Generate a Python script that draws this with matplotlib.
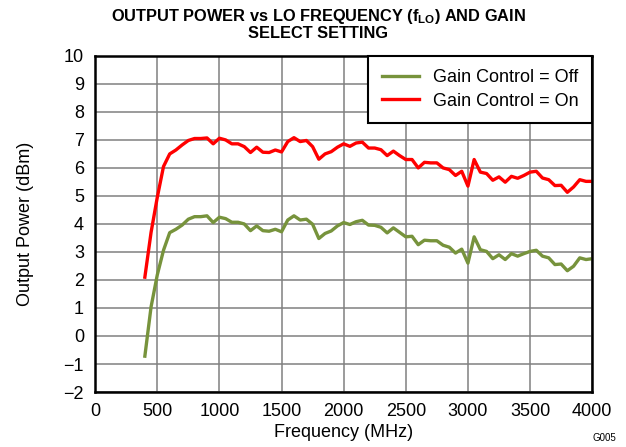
import matplotlib
matplotlib.use('Agg')
import matplotlib.pyplot as plt

plt.rcParams['font.family'] = ['Liberation Sans', 'DejaVu Sans']

FREQ_MHZ = list(range(400, 4001, 50))

GAIN_OFF = [
    -0.72, 1.04, 2.18, 3.06, 3.69, 3.81, 3.96, 4.17, 4.26, 4.26,
    4.29, 4.05, 4.24, 4.19, 4.06, 4.06, 4.00, 3.76, 3.93, 3.76,
    3.74, 3.81, 3.72, 4.14, 4.29, 4.14, 4.17, 3.99, 3.48, 3.66,
    3.75, 3.93, 4.05, 3.98, 4.08, 4.13, 3.96, 3.95, 3.88, 3.68,
    3.86, 3.70, 3.54, 3.56, 3.26, 3.42, 3.40, 3.40, 3.24, 3.17,
    2.96, 3.10, 2.60, 3.54, 3.08, 3.02, 2.76, 2.90, 2.73, 2.94,
    2.85, 2.94, 3.02, 3.06, 2.85, 2.79, 2.55, 2.57, 2.33, 2.49,
    2.79, 2.73, 2.76,
]

GAIN_ON = [
    2.10, 3.70, 4.95, 6.05, 6.50, 6.64, 6.82, 6.98, 7.05, 7.05,
    7.07, 6.86, 7.06, 7.00, 6.86, 6.86, 6.76, 6.55, 6.74, 6.56,
    6.55, 6.64, 6.57, 6.94, 7.08, 6.94, 6.98, 6.76, 6.31, 6.50,
    6.58, 6.74, 6.86, 6.77, 6.89, 6.92, 6.71, 6.71, 6.65, 6.44,
    6.60, 6.44, 6.30, 6.30, 6.00, 6.20, 6.18, 6.18, 6.00, 5.94,
    5.73, 5.88, 5.35, 6.30, 5.85, 5.80, 5.56, 5.68, 5.49, 5.70,
    5.63, 5.73, 5.85, 5.88, 5.64, 5.58, 5.37, 5.38, 5.13, 5.32,
    5.58, 5.52, 5.52,
]

X_TICKS = [0, 500, 1000, 1500, 2000, 2500, 3000, 3500, 4000]
Y_TICKS = list(range(-2, 11))

GREEN = '#77933C'
RED = '#FF0000'

fig = plt.figure(figsize=(6.26, 4.47), dpi=100)
ax = fig.add_axes([0.152, 0.123, 0.794, 0.752])

ax.plot(FREQ_MHZ, GAIN_OFF, color=GREEN, linewidth=2.4, label='Gain Control = Off',
        solid_joinstyle='round')
ax.plot(FREQ_MHZ, GAIN_ON, color=RED, linewidth=2.4, label='Gain Control = On',
        solid_joinstyle='round')

ax.set_xlim(0, 4000)
ax.set_ylim(-2, 10)
ax.set_xticks(X_TICKS)
ax.set_yticks(Y_TICKS)
ax.set_yticklabels([str(v).replace('-', '\u2212') for v in Y_TICKS])
ax.tick_params(length=0, pad=8, labelsize=13)

ax.grid(True, color='#808080', linewidth=1.1)
ax.set_axisbelow(True)
for sp in ax.spines.values():
    sp.set_linewidth(1.8)
    sp.set_color('black')

ax.set_xlabel('Frequency (MHz)', fontsize=13, labelpad=3)
ax.set_ylabel('Output Power (dBm)', fontsize=13, labelpad=21)

leg = ax.legend(loc='upper right', fontsize=13, frameon=True, fancybox=False,
                borderaxespad=0, handlelength=2.05, handletextpad=0.8,
                borderpad=0.75, labelspacing=0.35)
leg.get_frame().set_edgecolor('black')
leg.get_frame().set_linewidth(1.5)
leg.get_frame().set_alpha(1)

fig.text(0.508, 0.985, 'OUTPUT POWER vs LO FREQUENCY (f$_{\\mathregular{LO}}$) AND GAIN\nSELECT SETTING',
         ha='center', va='top', fontsize=11.8, fontweight='bold', linespacing=1.05)
fig.text(0.985, 0.01, 'G005', ha='right', va='bottom', fontsize=7)

fig.savefig('out.png', dpi=100)
